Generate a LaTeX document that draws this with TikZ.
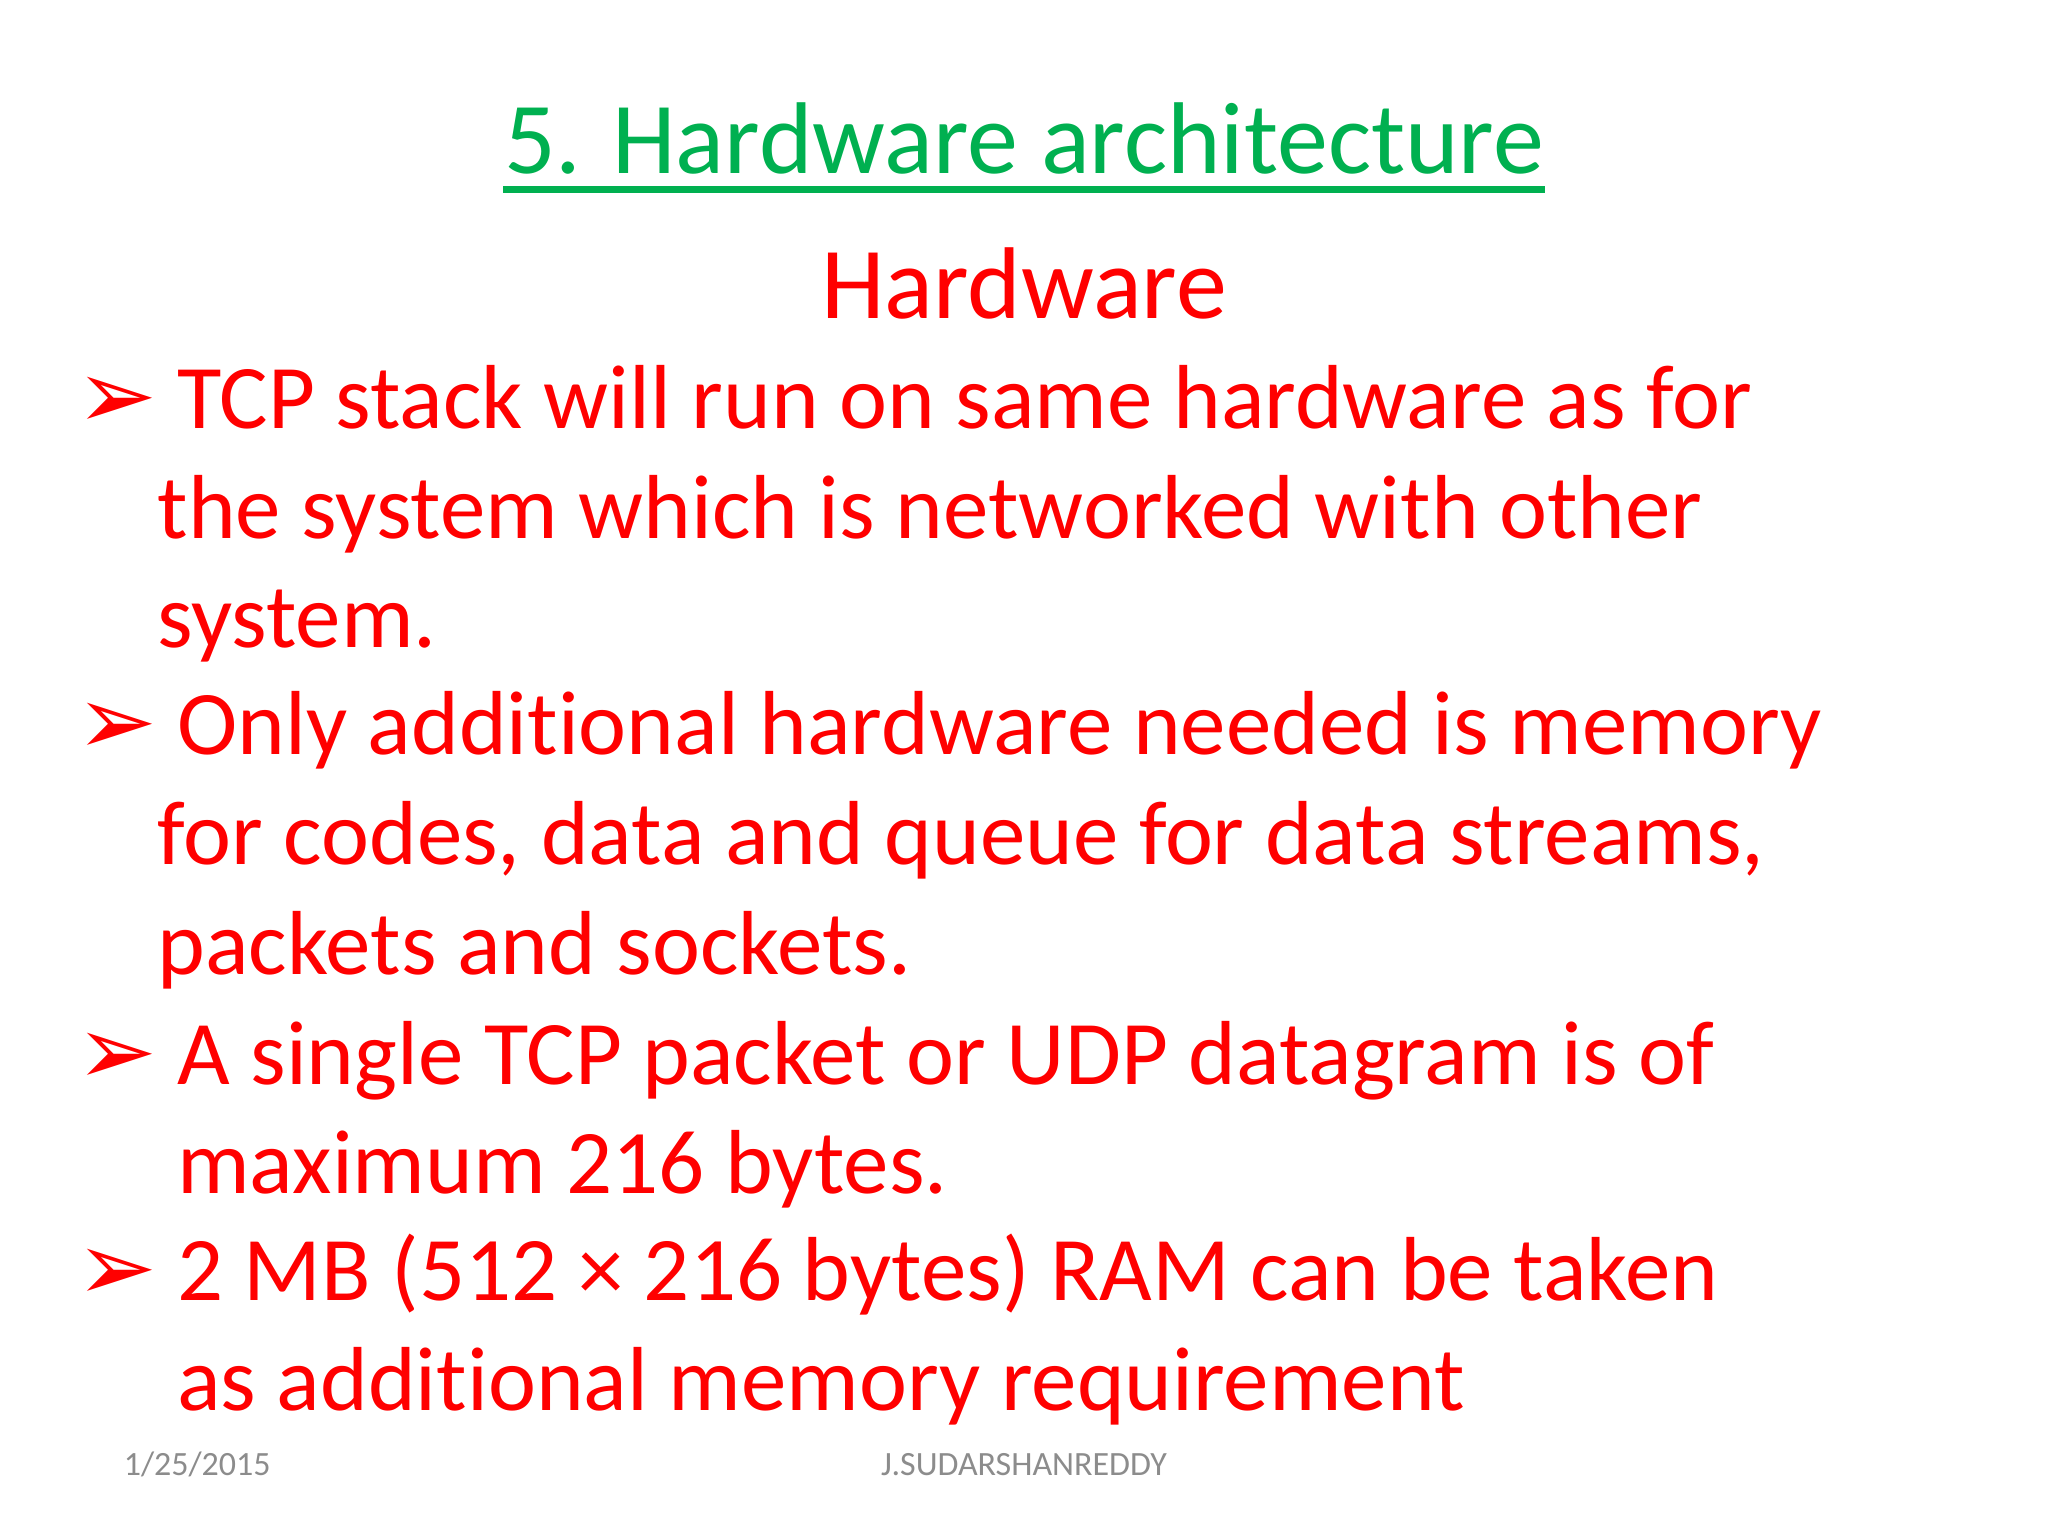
\documentclass[tikz,border=0pt]{standalone}
\usepackage{fontspec}
\setmainfont[RawFeature=-liga]{Carlito}
\newfontfamily\symfont{DejaVu Sans}
\usetikzlibrary{positioning}
\definecolor{slidered}{HTML}{FF0000}
\definecolor{slidegreen}{HTML}{00B050}
\definecolor{footgray}{HTML}{8C8C8C}
\tikzset{
	body/.style = {anchor=base west, inner sep=0pt, text=slidered, font=\fontsize{19.8}{24}\selectfont},
	bulletmark/.style = {anchor=base west, inner sep=0pt, text=slidered, font=\symfont\fontsize{21}{24}\selectfont},
	foot/.style = {anchor=base, inner sep=0pt, text=footgray, font=\fontsize{7.4}{9}\selectfont},
}
\begin{document}
\begin{tikzpicture}[x=0.01cm, y=-0.01cm]
	\useasboundingbox (0,0) rectangle (1568,1176);
	\node (title) [anchor=base, inner sep=0pt, text=slidegreen, font=\fontsize{22.2}{26}\selectfont] at (784,133) {5. Hardware architecture};
	\draw [slidegreen, line width=1.6pt] (title.west |- 0,145) -- (title.east |- 0,145);
	\node (head) [anchor=base, inner sep=0pt, text=slidered, font=\fontsize{22.2}{26}\selectfont] at (784,244) {Hardware};

	% bullets
	\foreach \y [count=\i] in {328,578,830,996}
		\node (m\i) [bulletmark] at (58,\y) {➢};

	\node (l1) [body] at (135,328) {TCP stack will run on same hardware as for};
	\node (l2) [body] at (120,412) {the system which is networked with other};
	\node (l3) [body] at (120,496) {system.};
	\node (l4) [body] at (135,578) {Only additional hardware needed is memory};
	\node (l5) [body] at (120,662) {for codes, data and queue for data streams,};
	\node (l6) [body] at (120,746) {packets and sockets.};
	\node (l7) [body] at (135,830) {A single TCP packet or UDP datagram is of};
	\node (l8) [body] at (135,914) {maximum 216 bytes.};
	\node (l9) [body] at (135,996) {2 MB (512 × 216 bytes) RAM can be taken};
	\node (l10) [body] at (135,1080) {as additional memory requirement};

	% footer
	\node (date) [foot] at (151,1130) {1/25/2015};
	\node (author) [foot] at (784,1130) {J.SUDARSHANREDDY};
\end{tikzpicture}
\end{document}
